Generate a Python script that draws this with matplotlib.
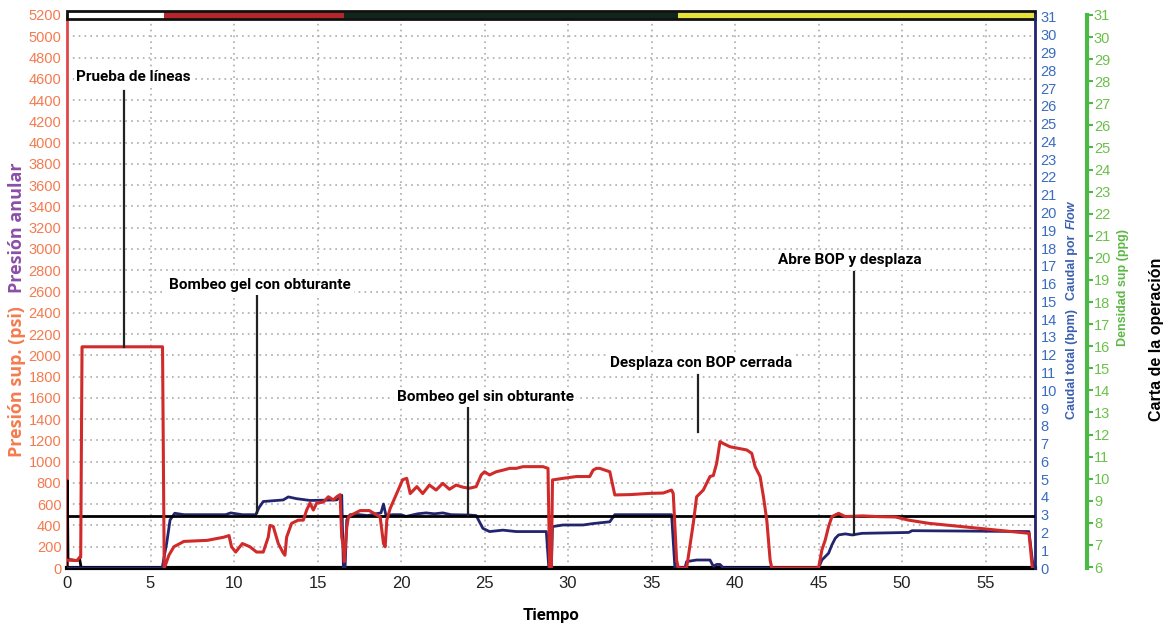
import matplotlib.pyplot as plt
from matplotlib.patches import Rectangle
import matplotlib.transforms as mtransforms

# time (min) / surface pressure (psi)
red_t = [0, 0.6, 0.75, 0.82, 0.9, 5.72, 5.82, 5.9, 6.1, 6.4, 7.0, 8.4, 9.4, 9.7,
         9.85, 10.1, 10.5, 10.95, 11.35, 11.75, 12.05, 12.15, 12.35, 12.65, 12.95,
         13.05, 13.15, 13.45, 13.85, 14.15, 14.35, 14.55, 14.75, 14.95, 15.35, 15.65,
         15.95, 16.15, 16.35, 16.45, 16.55, 16.6, 16.75, 16.85, 17.05, 17.55, 18.1,
         18.75, 18.95, 19.05, 19.15, 19.35, 20.1, 20.34, 20.55, 20.95, 21.3, 21.7,
         22.1, 22.5, 22.9, 23.3, 23.7, 24.1, 24.5, 24.8, 25.0, 25.3, 25.7, 26.1,
         26.5, 26.9, 27.3, 28.5, 28.8, 28.9, 29.0, 29.07, 29.7, 30.5, 31.3, 31.5,
         31.7, 31.9, 32.5, 32.8, 33.7, 34.9, 35.7, 36.2, 36.3, 36.5, 36.6, 37.1,
         37.5, 37.7, 38.1, 38.5, 38.7, 38.9, 39.1, 39.3, 39.7, 40.7, 41.0, 41.2,
         41.5, 41.7, 41.9, 42.1, 42.2, 45.0, 45.2, 45.4, 45.6, 45.8, 46.2, 46.6,
         47.6, 48.6, 49.6, 50.4, 51.6, 52.6, 53.6, 54.6, 55.6, 56.6, 57.6, 57.8]
red_psi = [75, 70, 100, 100, 2080, 2080, 0, 30, 120, 200, 250, 260, 290, 305,
           200, 150, 230, 200, 150, 150, 290, 400, 390, 230, 140,
           120, 290, 420, 450, 450, 545, 610, 545, 610, 620, 670,
           640, 670, 690, 290, 200, 60, 380, 480, 500, 540, 540,
           480, 230, 200, 450, 560, 830, 843, 700, 765, 700, 780,
           733, 796, 740, 780, 760, 750, 765, 875, 905, 875, 905, 920,
           937, 937, 953, 953, 937, 0, 0, 828, 843, 860, 860, 920,
           937, 937, 905, 687, 690, 702, 705, 733, 700, 75, 0, 0,
           420, 670, 733, 860, 870, 985, 1188, 1170, 1140, 1110, 1078, 953,
           860, 670, 450, 75, 0, 0, 170, 263, 390, 483, 514, 483,
           490, 483, 480, 450, 420, 405, 389, 373, 357, 342, 326, 0]

# time (min) / total flow (bpm)
blue_t = [0, 5.7, 5.85, 5.97, 6.17, 6.45, 7.0, 9.5, 9.8, 10.5, 11.3, 11.5, 11.75,
          12.95, 13.25, 13.75, 14.55, 16.15, 16.45, 16.55, 16.65, 16.75, 16.95,
          17.5, 18.0, 18.5, 18.8, 18.95, 19.1, 19.5, 20.0, 20.3, 21.0, 21.5, 22.0,
          22.5, 23.0, 24.1, 24.5, 24.9, 25.3, 26.1, 26.9, 28.7, 28.85, 29.0, 29.07,
          29.7, 30.9, 31.5, 32.5, 32.8, 36.2, 36.4, 37.0, 37.1, 37.7, 38.5, 38.7,
          38.9, 39.1, 39.3, 45.0, 45.2, 45.6, 45.8, 46.0, 46.2, 46.6, 47.0, 47.6,
          50.4, 50.6, 57.6, 57.8, 57.9]
blue_bpm = [0, 0, 0.8, 1.4, 2.7, 3.08, 3.0, 3.0, 3.1, 3.0, 3.0, 3.4, 3.74,
            3.83, 4.0, 3.9, 3.8, 3.83, 4.1, 0, 0, 2.7, 3.0,
            3.0, 2.95, 3.05, 3.1, 3.6, 2.95, 3.0, 3.0, 2.9, 3.05, 3.1, 3.05,
            3.1, 3.0, 2.98, 2.95, 2.23, 2.05, 2.13, 2.05, 2.05, 0, 0, 2.33,
            2.42, 2.42, 2.5, 2.6, 3.0, 3.0, 0, 0, 0.36, 0.45, 0.45, 0.1,
            0.2, 0.2, 0, 0, 0.45, 0.83, 1.3, 1.67, 1.86, 1.92, 1.86, 1.95,
            2.0, 2.1, 2.05, 0.45, 0]

# annular pressure (psi)
black_t = [0, 0.02, 0.06, 0.6, 0.75, 0.85, 57.9]
black_psi = [0, 820, 80, 70, 90, 0, 0]

density_ppg = 8.33

# top band: operation phases
phase_start = [0, 5.8, 16.6, 36.6]
phase_end = [5.8, 16.6, 36.6, 57.96]
phase_color = ['white', '#b3262b', '#10261a', '#e6e03c']

notes = ['Prueba de líneas', 'Bombeo gel con obturante', 'Bombeo gel sin obturante',
         'Desplaza con BOP cerrada', 'Abre BOP y desplaza']
note_x = [4.0, 11.56, 25.03, 37.96, 46.9]
note_y = [4615, 2660, 1607, 1927, 2895]
line_x = [3.41, 11.38, 24.0, 37.8, 47.1]
line_top = [4490, 2556, 1504, 1814, 2782]
line_bot = [2080, 517, 500, 1280, 310]

narrow = ['Roboto', 'DejaVu Sans']
sans = ['Liberation Sans', 'DejaVu Sans']
plt.rcParams['font.family'] = sans

orange = '#f47b4f'
navy = '#23246e'
red = '#d02a2a'
green = '#4db848'

fig = plt.figure(figsize=(11.72, 6.27), dpi=100)
ax = fig.add_axes([67 / 1172, 1 - 568 / 627, (1035 - 67) / 1172, (568 - 15) / 627])
ax.set_xlim(0, 57.96)
ax.set_ylim(0, 5200)
ax.set_xticks(range(0, 56, 5))
ax.set_yticks(range(0, 5201, 200))
ax.tick_params(axis='y', length=0, pad=4, labelsize=10.5, labelcolor=orange)
ax.tick_params(axis='x', length=0, pad=6, labelsize=12, labelcolor='#222222')
ax.grid(True, color='#ababab', linestyle=(0, (1, 2.5)), linewidth=1.2)
ax.set_axisbelow(True)
ax.spines['left'].set_color('#e04848')
ax.spines['left'].set_linewidth(2)
ax.spines['bottom'].set_color('black')
ax.spines['bottom'].set_linewidth(3)
ax.spines['top'].set_visible(False)
ax.spines['right'].set_visible(False)

ax.plot(black_t, black_psi, color='black', lw=2, zorder=3)

ax2 = ax.twinx()
ax2.set_ylim(0, 31 * 553 / 551)
ax2.set_yticks(range(0, 32))
ax2.tick_params(axis='y', length=0, pad=4, labelsize=10.5, labelcolor='#3b6cc0')
for s in ['left', 'top', 'bottom']:
    ax2.spines[s].set_visible(False)
ax2.spines['right'].set_color(navy)
ax2.spines['right'].set_linewidth(2)
ax2.plot(blue_t, blue_bpm, color=navy, lw=2, zorder=3)

ax3 = ax.twinx()
ax3.set_ylim(5.955, 31)
ax3.set_yticks(range(6, 32))
ax3.spines['right'].set_position(('axes', (1087 - 67) / 968))
ax3.spines['right'].set_color(green)
ax3.spines['right'].set_linewidth(3)
for s in ['left', 'top', 'bottom']:
    ax3.spines[s].set_visible(False)
ax3.tick_params(axis='y', length=4, width=1.5, color=green, pad=1, labelsize=10.5,
                labelcolor='#6cc04a')
ax3.axhline(density_ppg, color='black', lw=2, zorder=2)

# red trace and notes on top of everything
ax4 = ax.twinx()
ax4.set_ylim(0, 5200)
ax4.axis('off')
ax4.plot(red_t, red_psi, color=red, lw=2.2)

for txt, tx, ty, lx, lt, lb in zip(notes, note_x, note_y, line_x, line_top, line_bot):
    ax4.plot([lx, lx], [lb, lt], color='#222222', lw=1.6)
    ax4.text(tx, ty, txt, ha='center', va='center', fontsize=11, fontweight='bold',
             family=narrow, color='black',
             bbox=dict(facecolor='white', edgecolor='none', pad=2))

# top phase band
trans = mtransforms.blended_transform_factory(ax.transData, ax.transAxes)
band_h = 8 / 553
for x0, x1, c in zip(phase_start, phase_end, phase_color):
    ax.add_patch(Rectangle((x0, 1 - band_h / 2), x1 - x0, band_h, transform=trans,
                           facecolor=c, edgecolor='none', clip_on=False, zorder=5))
ax.add_patch(Rectangle((0, 1 - band_h / 2), phase_end[-1], band_h, transform=trans,
                       facecolor='none', edgecolor='#111111', lw=2, clip_on=False,
                       zorder=6))

ax.set_xlabel('Tiempo', fontsize=12, fontweight='bold', family=narrow, labelpad=12)

def fy(p):
    return 1 - p / 627

fig.text(17 / 1172, fy(382), 'Presión sup. (psi)', rotation=90, ha='center',
         va='center', color=orange, fontsize=13, fontweight='bold', family=['Open Sans', 'DejaVu Sans'])
fig.text(17 / 1172, fy(228), 'Presión anular', rotation=90, ha='center',
         va='center', color='#8a4fa8', fontsize=13, fontweight='bold', family=['Open Sans', 'DejaVu Sans'])
fig.text(1072 / 1172, fy(364), 'Caudal total (bpm)', rotation=90, ha='center',
         va='center', color='#3b5fb0', fontsize=9, fontweight='bold')
fig.text(1072 / 1172, fy(231), 'Caudal por ', rotation=90, ha='center',
         va='top', color='#3b5fb0', fontsize=9, fontweight='bold')
fig.text(1072 / 1172, fy(229), 'Flow', rotation=90, ha='center', va='bottom',
         color='#3b5fb0', fontsize=9, fontweight='bold', style='italic')
fig.text(1123 / 1172, fy(288), 'Densidad sup (ppg)', rotation=90, ha='center',
         va='center', color='#5cb845', fontsize=9, fontweight='bold')
fig.text(1157 / 1172, fy(339), 'Carta de la operación', rotation=90, ha='center',
         va='center', color='black', fontsize=11.5, fontweight='bold')

fig.savefig('out.png', dpi=100)
